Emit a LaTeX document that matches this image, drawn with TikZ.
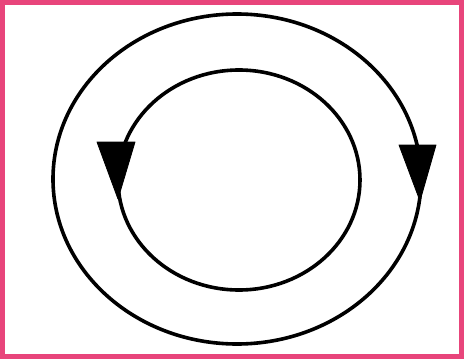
\documentclass[tikz,border=0pt]{standalone}
\definecolor{framepink}{HTML}{E8457B}
\tikzset{
  ring/.style={draw=black, line width=3.6pt},
  headtri/.style={fill=black, draw=black, line width=0.8pt, line join=round}
}
\begin{document}
\begin{tikzpicture}[x=1pt,y=-1pt]
  \useasboundingbox (0,0) rectangle (464,359);
  \fill[white] (0,0) rectangle (464,359);
  \draw[framepink, line width=5pt] (2.5,2.5) rectangle (461.5,356.5);
  % outer ring
  \coordinate (oc) at (237,179);
  \draw[ring] (oc) ellipse [x radius=184, y radius=165];
  % inner ring
  \coordinate (ic) at (239,180);
  \draw[ring] (ic) ellipse [x radius=121, y radius=110];
  % arrowheads
  \filldraw[headtri] (97,142) -- (135,142) -- (118,199) -- cycle;
  \filldraw[headtri] (399,145) -- (436,145) -- (420,201) -- cycle;
\end{tikzpicture}
\end{document}
